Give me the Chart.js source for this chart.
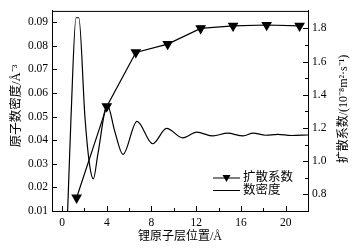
<!DOCTYPE html>
<html>
<head>
<meta charset="utf-8">
<script src="https://cdn.jsdelivr.net/npm/chart.js@4.4.1/dist/chart.umd.min.js"></script>
<style>
  html, body { margin: 0; padding: 0; background: #fff; }
  #wrap { width: 358px; height: 248px; position: relative; }
</style>
</head>
<body>
<div id="wrap"><canvas id="myChart"></canvas></div>
<script>
// Lithium atom layer position (Å) and number density (Å^-3)
const layerPos   = [0.5, 0.8, 1.25, 1.5, 2.05, 2.45, 2.8, 3.2, 4.05, 4.7, 5.45, 6.7, 8.1, 9.35, 10.8, 12.05, 13.5, 14.8, 16.2, 17.1, 18.2, 19.3, 20.5, 22];
const numDensity = [0.01, 0.0496, 0.0919, 0.0919, 0.0496, 0.030, 0.0236, 0.034, 0.055, 0.044, 0.034, 0.048, 0.0385, 0.045, 0.041, 0.0434, 0.0418, 0.043, 0.0418, 0.043, 0.0421, 0.0425, 0.042, 0.0422];

// diffusion coefficient (10^-8 m^2/s)
const diffPos  = [1.3, 4.0, 6.6, 9.45, 12.4, 15.3, 18.3, 21.25];
const diffCoef = [0.78, 1.33, 1.655, 1.705, 1.80, 1.815, 1.82, 1.815];

const xTicks    = [0, 4, 8, 12, 16, 20];
const xMinor    = [2, 6, 10, 14, 18, 22];
const densTicks = [0.01, 0.02, 0.03, 0.04, 0.05, 0.06, 0.07, 0.08, 0.09];
const diffTicks = [0.8, 1.0, 1.2, 1.4, 1.6, 1.8];
const diffMinor = [0.9, 1.1, 1.3, 1.5, 1.7];

const labels = {
    x: '锂原子层位置/Å',
    y: '原子数密度/Å⁻³',
    y2: '扩散系数/(10⁻⁸m²·s⁻¹)',
    diff: '扩散系数',
    dens: '数密度'
};

const FONT = "'Liberation Serif', 'Noto Sans CJK SC', serif";

// frame, inward ticks, titles and legend
const framePlugin = {
    id: 'frame',
    afterDraw(chart) {
        const ctx = chart.ctx;
        const a = chart.chartArea;
        const sx = chart.scales.x, sy = chart.scales.y, sy2 = chart.scales.y2;
        ctx.save();
        ctx.strokeStyle = '#000';
        ctx.lineWidth = 1;
        ctx.beginPath();
        ctx.moveTo(a.left, a.top + 0.5);
        ctx.lineTo(a.right, a.top + 0.5);
        // x ticks
        xTicks.forEach(v => { const p = Math.round(sx.getPixelForValue(v)) + 0.5; ctx.moveTo(p, a.bottom); ctx.lineTo(p, a.bottom - 5); });
        xMinor.forEach(v => { const p = Math.round(sx.getPixelForValue(v)) + 0.5; ctx.moveTo(p, a.bottom); ctx.lineTo(p, a.bottom - 3); });
        densTicks.forEach(v => { const p = Math.round(sy.getPixelForValue(v)) + 0.5; ctx.moveTo(a.left, p); ctx.lineTo(a.left + 5, p); });
        diffTicks.forEach(v => { const p = Math.round(sy2.getPixelForValue(v)) + 0.5; ctx.moveTo(a.right, p); ctx.lineTo(a.right - 5, p); });
        diffMinor.forEach(v => { const p = Math.round(sy2.getPixelForValue(v)) + 0.5; ctx.moveTo(a.right, p); ctx.lineTo(a.right - 3, p); });
        ctx.stroke();

        // titles
        ctx.fillStyle = '#000';
        ctx.textAlign = 'center';
        ctx.textBaseline = 'middle';
        ctx.font = '12px ' + FONT;
        ctx.fillText(labels.x, (a.left + a.right) / 2, 237);
        ctx.save();
        ctx.translate(17, 106);
        ctx.rotate(-Math.PI / 2);
        ctx.font = '12.5px ' + FONT;
        ctx.fillText(labels.y, 0, 0);
        ctx.restore();
        ctx.save();
        ctx.translate(344, 109);
        ctx.rotate(-Math.PI / 2);
        ctx.font = '12px ' + FONT;
        ctx.fillText(labels.y2, 0, 0);
        ctx.restore();

        // legend
        const lx0 = 213, lx1 = 240;
        ctx.lineWidth = 1.2;
        ctx.beginPath();
        ctx.moveTo(lx0, 178); ctx.lineTo(lx1, 178);
        ctx.moveTo(lx0, 190.5); ctx.lineTo(lx1, 190.5);
        ctx.stroke();
        const cx = (lx0 + lx1) / 2;
        ctx.beginPath();
        ctx.moveTo(cx - 4, 175); ctx.lineTo(cx + 4, 175); ctx.lineTo(cx, 182);
        ctx.closePath();
        ctx.fill();
        ctx.textAlign = 'left';
        ctx.font = '12.5px ' + FONT;
        ctx.fillText(labels.diff, 243, 178);
        ctx.fillText(labels.dens, 243, 191);
        ctx.restore();
    }
};

const config = {
    type: 'line',
    data: {
        datasets: [
            {
                label: labels.dens,
                data: layerPos.map((x, i) => ({ x: x, y: numDensity[i] })),
                yAxisID: 'y',
                borderColor: '#000',
                borderWidth: 1.2,
                pointRadius: 0,
                cubicInterpolationMode: 'monotone',
                fill: false
            },
            {
                label: labels.diff,
                data: diffPos.map((x, i) => ({ x: x, y: diffCoef[i] })),
                yAxisID: 'y2',
                borderColor: '#000',
                backgroundColor: '#000',
                borderWidth: 1.2,
                pointStyle: 'triangle',
                rotation: 180,
                pointRadius: 5,
                tension: 0,
                fill: false
            }
        ]
    },
    options: {
        responsive: true,
        maintainAspectRatio: false,
        animation: false,
        layout: { padding: { top: 5 } },
        plugins: { legend: { display: false }, tooltip: { enabled: false } },
        scales: {
            x: {
                type: 'linear',
                min: -0.9, max: 22,
                afterBuildTicks: s => { s.ticks = xTicks.map(v => ({ value: v })); },
                afterFit: s => { s.height = 37; },
                grid: { display: false, drawTicks: false },
                border: { display: true, color: '#000', width: 1 },
                ticks: { color: '#000', padding: 5, font: { family: FONT, size: 11.5 } }
            },
            y: {
                position: 'left',
                min: 0.01, max: 0.0948,
                afterBuildTicks: s => { s.ticks = densTicks.map(v => ({ value: v })); },
                afterFit: s => { s.width = 52; },
                grid: { display: false, drawTicks: false },
                border: { display: true, color: '#000', width: 1 },
                ticks: { color: '#000', padding: 4, font: { family: FONT, size: 11.5 }, callback: v => v.toFixed(2) }
            },
            y2: {
                position: 'right',
                min: 0.70, max: 1.905,
                afterBuildTicks: s => { s.ticks = diffTicks.map(v => ({ value: v })); },
                afterFit: s => { s.width = 50; },
                grid: { display: false, drawTicks: false },
                border: { display: true, color: '#000', width: 1 },
                ticks: { color: '#000', padding: 4, font: { family: FONT, size: 11.5 }, callback: v => v.toFixed(1) }
            }
        }
    },
    plugins: [framePlugin]
};

new Chart(document.querySelector('#myChart').getContext('2d'), config);
</script>
</body>
</html>
